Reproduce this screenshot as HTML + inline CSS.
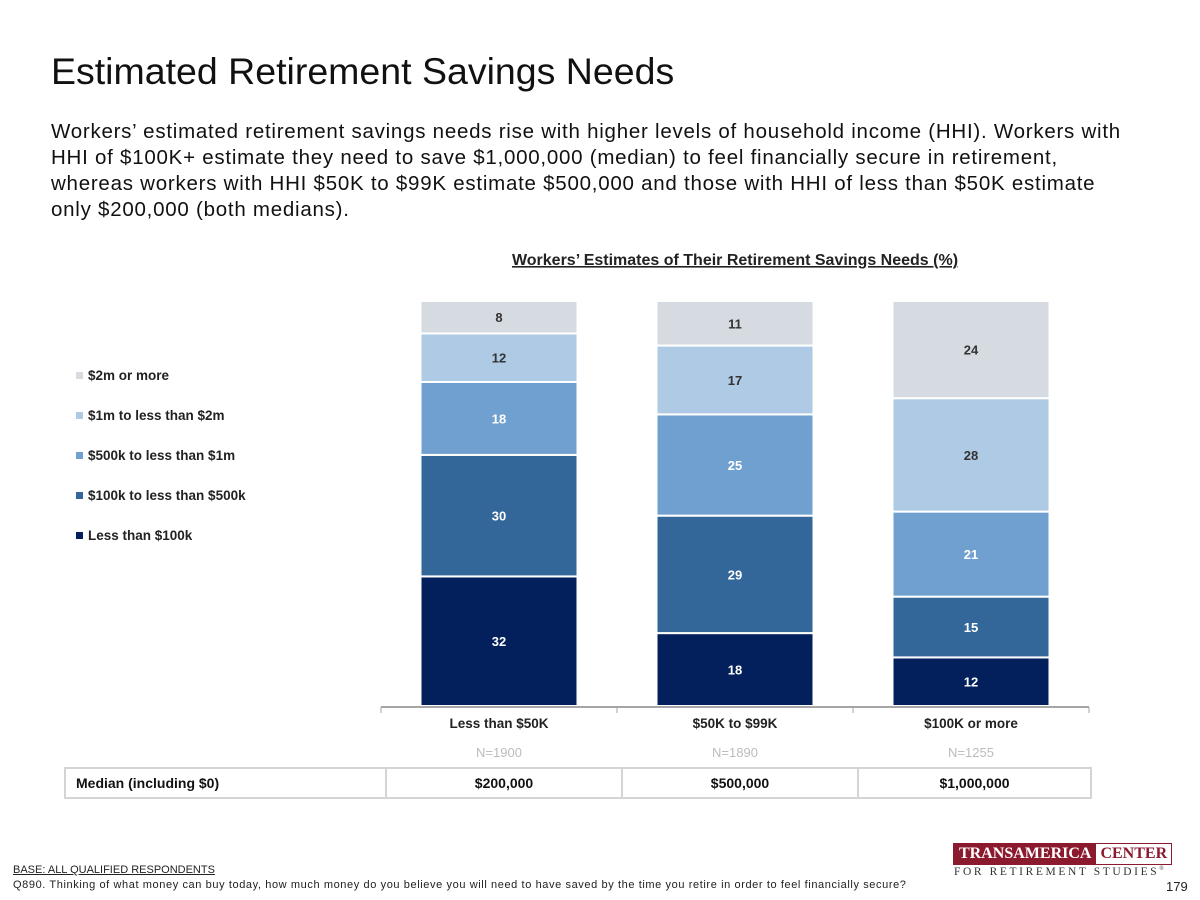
<!DOCTYPE html>
<html><head><meta charset="utf-8"><style>
body{margin:0;width:1200px;height:900px;background:#fff;font-family:"Liberation Sans",Arial,sans-serif;position:relative;overflow:hidden}
.abs{position:absolute}
</style></head><body>
<div class="abs" style="left:51px;top:50px;font-size:37.5px;color:#111">Estimated Retirement Savings Needs</div>
<div class="abs" style="left:51px;top:119px;width:1140px;font-size:20.5px;letter-spacing:0.75px;line-height:26px;color:#111;white-space:nowrap">Workers’ estimated retirement savings needs rise with higher levels of household income (HHI). Workers with<br>HHI of $100K+ estimate they need to save $1,000,000 (median) to feel financially secure in retirement,<br>whereas workers with HHI $50K to $99K estimate $500,000 and those with HHI of less than $50K estimate<br>only $200,000 (both medians).</div>

<svg class="abs" style="left:0;top:0" width="1200" height="900">
<text x="735" y="265" text-anchor="middle" font-size="16" font-weight="bold" fill="#222" text-decoration="underline">Workers’ Estimates of Their Retirement Savings Needs (%)</text>
<g id="legend"></g>
<g id="bars"></g>
<g id="axis"></g>
</svg>

<div class="abs" style="left:64px;top:767px;width:1028px;height:32px;border:2px solid #d4d4d4;box-sizing:border-box;display:flex;font-size:14px;font-weight:bold;color:#111">
<div style="width:321px;border-right:2px solid #d4d4d4;line-height:28px;padding-left:10px;box-sizing:border-box">Median (including $0)</div>
<div style="width:234px;border-right:2px solid #d4d4d4;text-align:center;line-height:28px">$200,000</div>
<div style="width:234px;border-right:2px solid #d4d4d4;text-align:center;line-height:28px">$500,000</div>
<div style="flex:1;text-align:center;line-height:28px">$1,000,000</div>
</div>

<div class="abs" style="left:13px;top:864px;font-size:11px;color:#222;text-decoration:underline">BASE: ALL QUALIFIED RESPONDENTS</div>
<div class="abs" style="left:13px;top:879px;font-size:11px;letter-spacing:0.6px;color:#222">Q890. Thinking of what money can buy today, how much money do you believe you will need to have saved by the time you retire in order to feel financially secure?</div>
<div class="abs" style="left:953px;top:843px;display:flex;border:1px solid #8b1a2f;font-family:'Liberation Serif',serif;font-size:16px;font-weight:bold">
<div style="background:#8b1a2f;color:#fff;padding:1px 5px">TRANSAMERICA</div><div style="color:#8b1a2f;padding:1px 4px;background:#fff">CENTER</div></div>
<div class="abs" style="left:954px;top:866px;font-family:'Liberation Serif',serif;font-size:11.5px;letter-spacing:2.6px;color:#333">FOR RETIREMENT STUDIES<sup style="font-size:6px">®</sup></div>
<div class="abs" style="left:1166px;top:879px;font-size:13px;color:#222">179</div>

<script>
const categories=["Less than $50K","$50K to $99K","$100K or more"];
const sampleSizes=["N=1900","N=1890","N=1255"];
const seriesNames=["Less than $100k","$100k to less than $500k","$500k to less than $1m","$1m to less than $2m","$2m or more"];
const lt100k=[32,18,12];
const s100to500k=[30,29,15];
const s500kto1m=[18,25,21];
const s1mto2m=[12,17,28];
const s2mplus=[8,11,24];
const series=[lt100k,s100to500k,s500kto1m,s1mto2m,s2mplus];
const colors=["#03205c","#336699","#70a0cf","#aecae4","#d6dbe2"];
const textColors=["#fff","#fff","#fff","#333","#333"];
const NS="http://www.w3.org/2000/svg";
const baseY=706, scale=4.05, barW=157, slotX0=381, slotW=236;
const y=v=>baseY-v*scale;
const xc=i=>slotX0+slotW*(i+0.5);
function mk(tag,attrs,parent){const e=document.createElementNS(NS,tag);for(const k in attrs)e.setAttribute(k,attrs[k]);parent.appendChild(e);return e;}
const bars=document.getElementById('bars');
categories.forEach((c,i)=>{
  let cum=0;
  series.forEach((s,j)=>{
    const v=s[i];
    const r=mk('rect',{x:xc(i)-barW/2,y:y(cum+v),width:barW,height:v*scale,fill:colors[j],stroke:'#fff','stroke-width':2},bars);
    
    
    const t=mk('text',{x:xc(i),y:y(cum+v/2)+5,'text-anchor':'middle','font-size':13,'font-weight':'bold',fill:textColors[j]},bars);
    t.textContent=v;
    
    
    cum+=v;
  });
});
const ax=document.getElementById('axis');
mk('line',{x1:slotX0,x2:slotX0+slotW*3,y1:707,y2:707,stroke:'#a6a6a6','stroke-width':2},ax);
for(let i=0;i<=3;i++)mk('line',{x1:slotX0+slotW*i,x2:slotX0+slotW*i,y1:707,y2:713,stroke:'#a6a6a6','stroke-width':1},ax);
categories.forEach((c,i)=>{
  const t=mk('text',{x:xc(i),y:728,'text-anchor':'middle','font-size':13.5,'font-weight':'bold',fill:'#222'},ax);
  t.textContent=c;
  
  
  const n=mk('text',{x:xc(i),y:757,'text-anchor':'middle','font-size':13,fill:'#bcbcbc'},ax);
  n.textContent=sampleSizes[i];
  
  
});
const lg=document.getElementById('legend');
for(let j=4;j>=0;j--){
  const yy=378+(4-j)*40;
  const g=mk('g',{},lg);
  
  
  mk('rect',{x:76,y:yy-6,width:7,height:7,fill:colors[j]},g);
  const t=mk('text',{x:88,y:yy+2,'font-size':13.5,'font-weight':'bold',fill:'#222'},g);
  t.textContent=seriesNames[j];
}
</script>
</body></html>
